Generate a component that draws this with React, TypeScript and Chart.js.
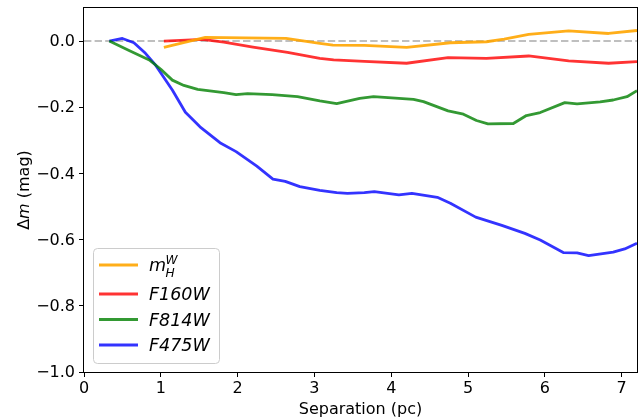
import React, { useEffect, useRef } from "react";
import { Chart, registerables } from "chart.js";

Chart.register(...registerables);

const xTicks = [0, 1, 2, 3, 4, 5, 6, 7];
const yTicks = [-1.0, -0.8, -0.6, -0.4, -0.2, 0.0];

const mhwX = [1.04, 1.58, 2.1, 2.63, 3.07, 3.24, 3.65, 4.2, 4.77, 5.24, 5.47, 5.79, 6.31, 6.83, 7.2];
const mhwY = [-0.019, 0.011, 0.01, 0.008, -0.007, -0.012, -0.013, -0.019, -0.005, -0.002, 0.006, 0.02, 0.031, 0.023, 0.032];

const f160X = [1.04, 1.54, 1.82, 2.2, 2.65, 3.07, 3.25, 3.65, 4.2, 4.74, 5.24, 5.79, 6.31, 6.83, 7.2];
const f160Y = [0.0, 0.005, -0.003, -0.018, -0.034, -0.052, -0.057, -0.061, -0.067, -0.05, -0.052, -0.045, -0.06, -0.067, -0.062];

const f814X = [0.33, 0.6, 0.85, 1.0, 1.15, 1.3, 1.48, 1.82, 1.98, 2.13, 2.45, 2.78, 3.07, 3.29, 3.59, 3.77, 4.29, 4.42, 4.74, 4.94, 5.11, 5.26, 5.59, 5.76, 5.94, 6.26, 6.42, 6.72, 6.89, 7.07, 7.2];
const f814Y = [0.0, -0.03, -0.057, -0.085, -0.118, -0.134, -0.146, -0.156, -0.162, -0.159, -0.162, -0.168, -0.181, -0.189, -0.173, -0.168, -0.176, -0.183, -0.211, -0.221, -0.24, -0.25, -0.249, -0.225, -0.216, -0.186, -0.19, -0.184, -0.178, -0.168, -0.15];

const f475X = [0.33, 0.5, 0.65, 0.8, 0.93, 1.15, 1.32, 1.51, 1.77, 1.98, 2.25, 2.46, 2.62, 2.81, 3.07, 3.29, 3.43, 3.65, 3.78, 4.1, 4.27, 4.6, 4.77, 5.1, 5.44, 5.74, 5.94, 6.24, 6.42, 6.57, 6.89, 7.04, 7.2];
const f475Y = [0.0, 0.008, -0.005, -0.037, -0.072, -0.148, -0.215, -0.259, -0.307, -0.334, -0.378, -0.417, -0.424, -0.44, -0.451, -0.458, -0.46, -0.458, -0.455, -0.465, -0.46, -0.472, -0.49, -0.532, -0.557, -0.581, -0.601, -0.639, -0.64, -0.648, -0.638, -0.628, -0.611];

const seriesLabels = ["mHW", "F160W", "F814W", "F475W"];
const seriesColors = ["rgba(255,165,0,0.9)", "rgba(255,0,0,0.8)", "rgba(0,128,0,0.8)", "rgba(0,0,255,0.8)"];

const FONT = "'DejaVu Sans', sans-serif";
const FS = 16;

const toPts = (xs: number[], ys: number[]) => xs.map((x, i) => ({ x, y: ys[i] }));

const fmtY = (v: number) => {
  const s = Math.abs(v).toFixed(1);
  return v < -1e-9 ? "\u2212" + s : s;
};

const decorPlugin = {
  id: "decor",
  beforeDatasetsDraw(chart: any) {
    const { ctx, chartArea, scales } = chart;
    const y0 = scales.y.getPixelForValue(0);
    ctx.save();
    ctx.strokeStyle = "rgba(128,128,128,0.5)";
    ctx.lineWidth = 2;
    ctx.setLineDash([7.4, 3.2]);
    ctx.beginPath();
    ctx.moveTo(chartArea.left, y0);
    ctx.lineTo(chartArea.right, y0);
    ctx.stroke();
    ctx.restore();
  },
  afterDraw(chart: any) {
    const { ctx, chartArea } = chart;
    ctx.save();
    // frame
    ctx.strokeStyle = "#000";
    ctx.lineWidth = 1;
    ctx.strokeRect(Math.round(chartArea.left) - 0.5, Math.round(chartArea.top) - 0.5, Math.round(chartArea.right - chartArea.left) + 1, Math.round(chartArea.bottom - chartArea.top) + 1);

    // x title
    ctx.fillStyle = "#000";
    ctx.font = `${FS}px ${FONT}`;
    ctx.textAlign = "center";
    ctx.textBaseline = "alphabetic";
    ctx.fillText("Separation (pc)", (chartArea.left + chartArea.right) / 2, 414);

    // y title with italic m
    const parts = [
      { t: "\u0394", f: `${FS}px ${FONT}` },
      { t: "m", f: `italic ${FS}px ${FONT}` },
      { t: " (mag)", f: `${FS}px ${FONT}` },
    ];
    let total = 0;
    parts.forEach((p) => {
      ctx.font = p.f;
      total += ctx.measureText(p.t).width;
    });
    ctx.translate(28.5, (chartArea.top + chartArea.bottom) / 2);
    ctx.rotate(-Math.PI / 2);
    ctx.textAlign = "left";
    let cx = -total / 2;
    parts.forEach((p) => {
      ctx.font = p.f;
      ctx.fillText(p.t, cx, 0);
      cx += ctx.measureText(p.t).width;
    });
    ctx.restore();

    // legend
    ctx.save();
    const bx = 93.5, by = 248.5, bw = 126, bh = 115, r = 4;
    ctx.beginPath();
    ctx.moveTo(bx + r, by);
    ctx.arcTo(bx + bw, by, bx + bw, by + bh, r);
    ctx.arcTo(bx + bw, by + bh, bx, by + bh, r);
    ctx.arcTo(bx, by + bh, bx, by, r);
    ctx.arcTo(bx, by, bx + bw, by, r);
    ctx.closePath();
    ctx.fillStyle = "rgba(255,255,255,0.8)";
    ctx.fill();
    ctx.strokeStyle = "#cccccc";
    ctx.lineWidth = 1;
    ctx.stroke();

    const rowY = [265, 294, 319.5, 345];
    const lfs = 17.5;
    seriesLabels.forEach((lab, i) => {
      const y = rowY[i];
      ctx.strokeStyle = seriesColors[i];
      ctx.lineWidth = 2.8;
      ctx.setLineDash([]);
      ctx.beginPath();
      ctx.moveTo(99, y);
      ctx.lineTo(138, y);
      ctx.stroke();
      ctx.fillStyle = "#000";
      ctx.textAlign = "left";
      ctx.textBaseline = "alphabetic";
      if (i === 0) {
        ctx.font = `italic ${lfs}px ${FONT}`;
        ctx.fillText("m", 149, 271);
        ctx.font = `italic 12.2px ${FONT}`;
        ctx.fillText("W", 165.5, 263.5);
        ctx.fillText("H", 165.5, 276.5);
      } else {
        ctx.font = `italic ${lfs}px ${FONT}`;
        ctx.fillText(lab, 149, y + 6.3);
      }
    });
    ctx.restore();
  },
};

export default function App() {
  const ref = useRef<HTMLCanvasElement | null>(null);
  useEffect(() => {
    document.body.style.margin = "0";
    const canvas = ref.current;
    if (!canvas) return;
    const series = [
      toPts(mhwX, mhwY),
      toPts(f160X, f160Y),
      toPts(f814X, f814Y),
      toPts(f475X, f475Y),
    ];
    const chart = new Chart(canvas, {
      type: "line",
      data: {
        datasets: series.map((d, i) => ({
          label: seriesLabels[i],
          data: d,
          borderColor: seriesColors[i],
          backgroundColor: seriesColors[i],
          borderWidth: 2.8,
          pointRadius: 0,
          tension: 0,
          fill: false,
          borderJoinStyle: "round" as const,
          borderCapStyle: "butt" as const,
        })),
      },
      options: {
        animation: false,
        responsive: false,
        maintainAspectRatio: false,
        events: [],
        layout: { padding: { top: 8, right: 4, left: 0, bottom: 0 } },
        plugins: { legend: { display: false }, tooltip: { enabled: false } },
        scales: {
          x: {
            type: "linear",
            min: 0,
            max: 7.2,
            afterBuildTicks: (s: any) => {
              s.ticks = xTicks.map((v) => ({ value: v }));
            },
            afterFit: (s: any) => {
              s.height = 46;
              s.paddingLeft = 0;
              s.paddingRight = 0;
              s.paddingTop = 0;
              s.paddingBottom = 0;
            },
            grid: { display: true, drawOnChartArea: false, drawTicks: true, tickLength: 5, color: "#000", lineWidth: 1 },
            border: { display: false },
            ticks: {
              color: "#000",
              font: { family: FONT, size: FS },
              padding: 2,
              maxRotation: 0,
              autoSkip: false,
              callback: (v: any) => String(v),
            },
          },
          y: {
            type: "linear",
            min: -1.0,
            max: 0.1,
            afterBuildTicks: (s: any) => {
              s.ticks = yTicks.map((v) => ({ value: v }));
            },
            afterFit: (s: any) => {
              s.width = 84;
              s.paddingLeft = 0;
              s.paddingRight = 0;
              s.paddingTop = 0;
              s.paddingBottom = 0;
            },
            grid: { display: true, drawOnChartArea: false, drawTicks: true, tickLength: 5, color: "#000", lineWidth: 1 },
            border: { display: false },
            ticks: {
              color: "#000",
              font: { family: FONT, size: FS },
              padding: 4,
              labelOffset: 1,
              autoSkip: false,
              callback: (v: any) => fmtY(Number(v)),
            },
          },
        },
      },
      plugins: [decorPlugin],
    });
    return () => chart.destroy();
  }, []);
  return (
    <div style={{ position: "absolute", left: 0, top: 0, width: 641, height: 418 }}>
      <canvas ref={ref} width={641} height={418} style={{ width: 641, height: 418, display: "block" }} />
    </div>
  );
}
